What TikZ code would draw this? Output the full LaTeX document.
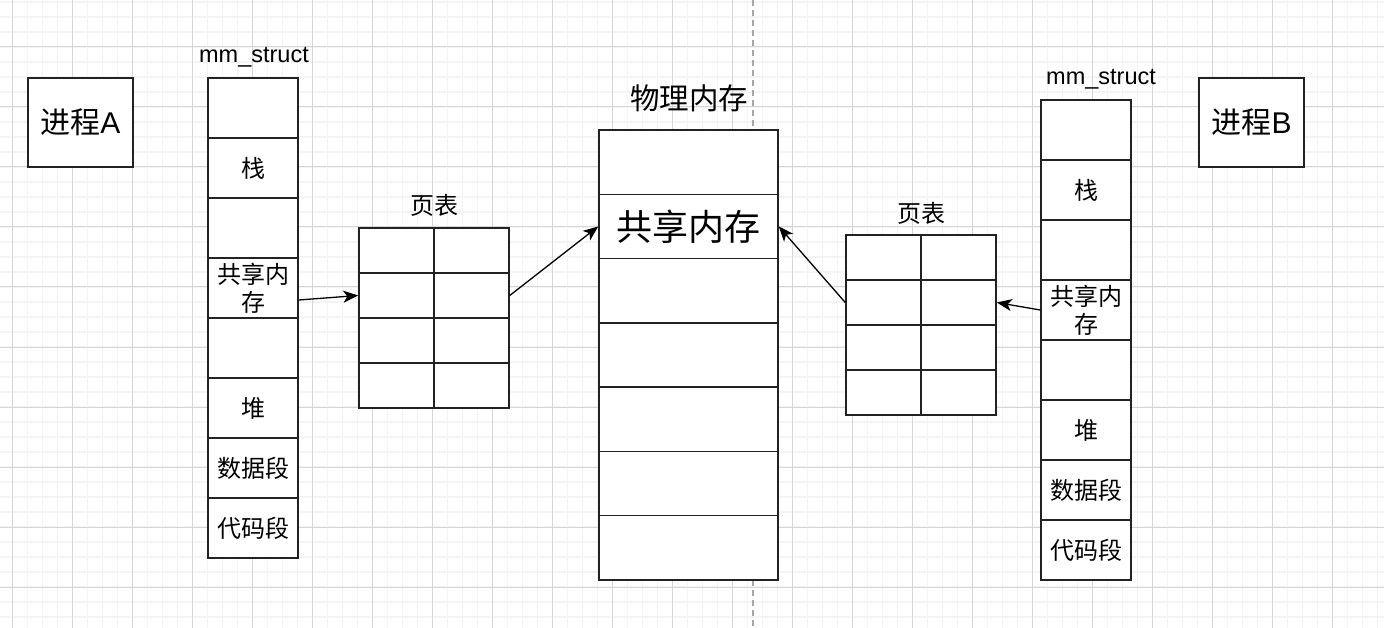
\documentclass[tikz,border=0pt]{standalone}
\usepackage{fontspec}
\setmainfont{Liberation Sans}
\newfontfamily\cjk{Noto Sans CJK SC}
\usetikzlibrary{arrows.meta}
\definecolor{gridminor}{HTML}{F4F4F4}
\definecolor{gridmajor}{HTML}{D6D6D6}
\definecolor{edge}{HTML}{222222}
\tikzset{
  minorline/.style={gridminor, line width=1.2pt},
  majorline/.style={gridmajor, line width=1pt},
  cell/.style={draw=edge, line width=1.5pt, fill=white, inner sep=0pt, minimum width=#1},
  cjktxt/.style={font=\cjk\fontsize{24}{28}\selectfont, align=center},
  ptcell/.style={draw=edge, line width=1.5pt, fill=white, inner sep=0pt, minimum width=75pt, minimum height=45pt},
  conn/.style={draw=black, line width=1.3pt, -{Stealth[length=15pt, width=12pt, inset=4pt]}},
  proc/.style={draw=edge, line width=1.5pt, fill=white, inner sep=0pt, minimum width=105pt, minimum height=89pt, font=\fontsize{30}{34}\selectfont},
  lbl/.style={inner sep=0pt, font=\fontsize{23.5}{28}\selectfont}
}
\begin{document}
\begin{tikzpicture}[x=1pt, y=-1pt]
\useasboundingbox (0,0) rectangle (1384,628);
\fill[white] (0,0) rectangle (1384,628);
% grid
\foreach \i in {0,...,91} {\draw[minorline] ({12.5+15*\i},0) -- ({12.5+15*\i},628);}
\foreach \j in {0,...,41} {\draw[minorline] (0,{2+15*\j}) -- (1384,{2+15*\j});}
\foreach \i in {0,...,22} {\draw[majorline] ({12.5+60*\i},0) -- ({12.5+60*\i},628);}
\foreach \j in {0,...,9} {\draw[majorline] (0,{47+60*\j}) -- (1384,{47+60*\j});}
\draw[gray!70, line width=1.2pt, dash pattern=on 6pt off 4pt] (753,0) -- (753,628);

% processes
\node[proc] (procA) at (80.5,122.5) {{\cjk 进程}A};
\node[proc] (procB) at (1251.5,122.5) {{\cjk 进程}B};

% mm_struct A
\node[lbl] (mmA) at (254,57) {mm\_struct};
\foreach \t [count=\i from 0] in {{},栈,{},{共享内\\存},{},堆,数据段,代码段} {
  \node[cell=90pt, minimum height=60pt, cjktxt] (a\i) at (253,{108+60*\i}) {\t};
}
% mm_struct B
\node[lbl] (mmB) at (1101,79) {mm\_struct};
\foreach \t [count=\i from 0] in {{},栈,{},{共享内\\存},{},堆,数据段,代码段} {
  \node[cell=90pt, minimum height=60pt, cjktxt] (b\i) at (1086,{130+60*\i}) {\t};
}

% page table A
\node[cjktxt] (ptlA) at (434,205) {页表};
\foreach \r in {0,...,3} {
  \node[ptcell] (ta\r0) at (396.5,{250.5+45*\r}) {};
  \node[ptcell] (ta\r1) at (471.5,{250.5+45*\r}) {};
}
% page table B
\node[cjktxt] (ptlB) at (921,213) {页表};
\foreach \r in {0,...,3} {
  \node[ptcell] (tb\r0) at (883.5,{257.5+45*\r}) {};
  \node[ptcell] (tb\r1) at (958.5,{257.5+45*\r}) {};
}

% physical memory
\node[font=\cjk\fontsize{29.5}{34}\selectfont, inner sep=0pt] (physl) at (689,98) {物理内存};
\foreach \i in {0,...,6} {
  \node[cell=179pt, minimum height=64.29pt] (p\i) at (688.5,{130+64.2857*(\i+0.5)}) {};
}
\node[font=\cjk\fontsize{36}{40}\selectfont, inner sep=0pt] (shm) at (p1) {共享内存};

% connectors
\draw[conn] ([yshift=-12pt]a3.east) -- (ta10.west);
\draw[conn] (ta11.east) -- (p1.west);
\draw[conn] (tb10.west) -- (p1.east);
\draw[conn] (b3.west) -- (tb11.east);
\end{tikzpicture}
\end{document}
